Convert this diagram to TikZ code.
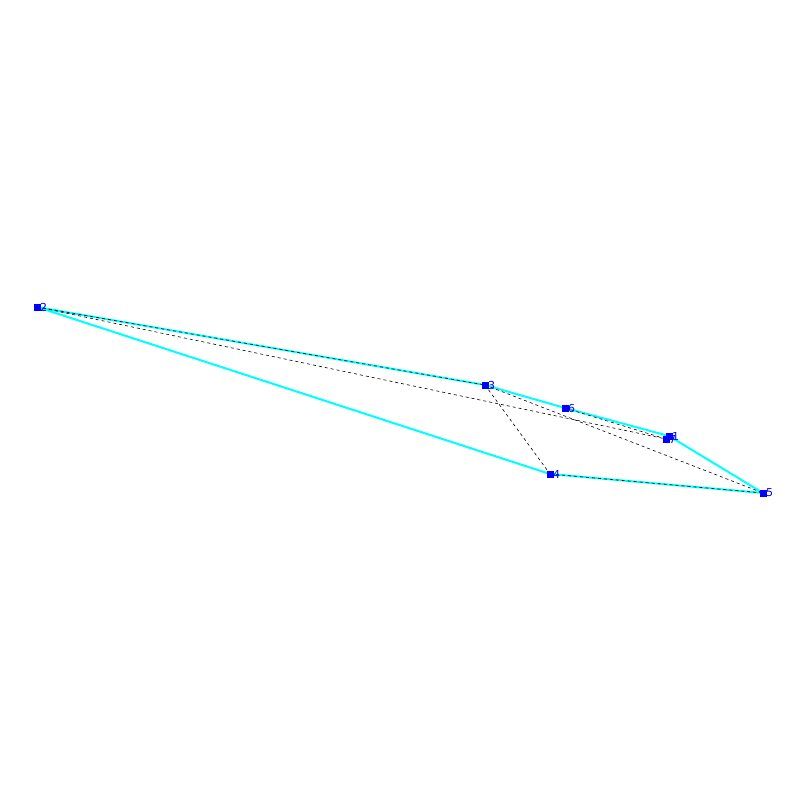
\documentclass[tikz,border=0pt]{standalone}
\usepackage{fontspec}
\setmainfont{DejaVu Sans}
\begin{document}
\begin{tikzpicture}[x=1pt,y=-1pt,
  pt/.style={rectangle,fill={rgb,255:red,0;green,0;blue,255},minimum size=7pt,inner sep=0pt},
  lab/.style={text={rgb,255:red,0;green,0;blue,255},font=\fontsize{11}{11}\selectfont,inner sep=0pt,anchor=west},
  edge/.style={draw={rgb,255:red,0;green,255;blue,255},line width=2pt},
  dsh/.style={draw=black,line width=0.6pt,dash pattern=on 3pt off 3pt}]
\useasboundingbox (0,0) rectangle (800,800);
\coordinate (p2) at (37,307);
\coordinate (p3) at (485,385);
\coordinate (p6) at (565,408);
\coordinate (p1) at (669,436);
\coordinate (p7) at (666,439);
\coordinate (p4) at (550,474);
\coordinate (p5) at (763,493);
\draw[edge] (p2) -- (p3) -- (p6) -- (p1) -- (p5) -- (p4) -- cycle;
\draw[dsh] (p2) -- (p3);
\draw[dsh] (p2) -- (p7);
\draw[dsh] (p3) -- (p4);
\draw[dsh] (p3) -- (p5);
\draw[dsh] (p4) -- (p5);
\draw[dsh] (p6) -- (p7);
\foreach \n in {2,3,6,1,7,4,5} {
  \node[pt] (n\n) at (p\n) {};
  \node[lab] (l\n) at ([xshift=3pt]p\n) {\n};
}
\end{tikzpicture}
\end{document}
